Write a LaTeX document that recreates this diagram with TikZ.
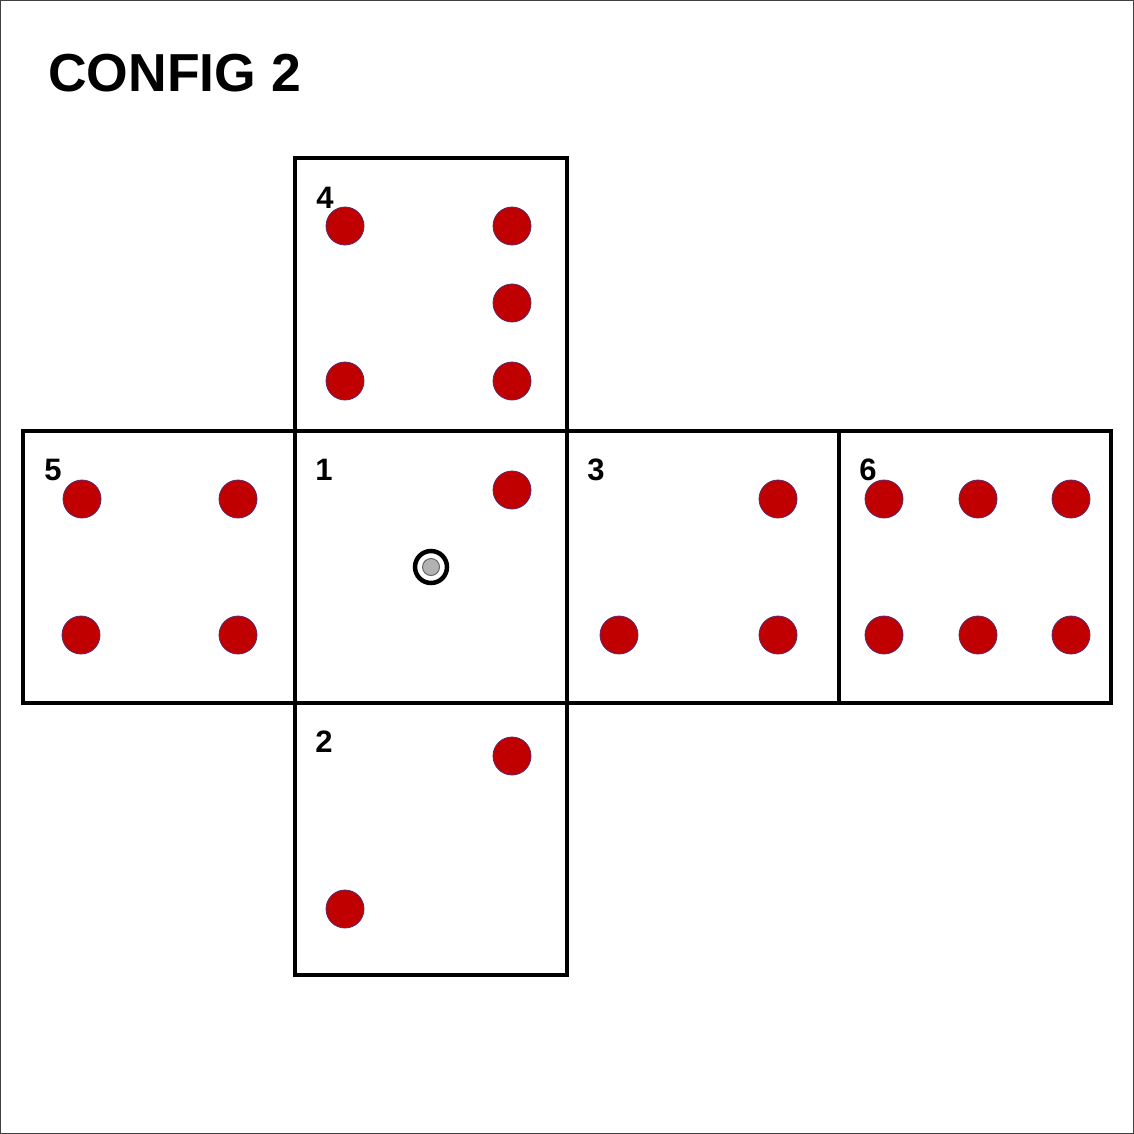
\documentclass[tikz,border=0pt]{standalone}
\usepackage{fontspec}
\setmainfont{Liberation Sans}
\begin{document}
\begin{tikzpicture}[x=1pt,y=-1pt,
  face/.style={draw=black,line width=4pt,minimum width=272pt,minimum height=272pt,inner sep=0pt,outer sep=0pt},
  pip/.style={circle,fill={rgb,255:red,192;green,0;blue,0},draw={rgb,255:red,90;green,40;blue,110},line width=0.8pt,minimum size=38pt,inner sep=0pt},
  num/.style={font=\fontsize{31}{31}\selectfont\bfseries,inner sep=0pt,anchor=center},
  title/.style={font=\fontsize{53.5}{53.5}\selectfont\bfseries,inner sep=0pt,anchor=west}]
\useasboundingbox (0,0) rectangle (1134,1134);
\draw[gray!50!black,line width=1pt] (0.5,0.5) rectangle (1133.5,1133.5);
\node[title] (t) at (48,73) {CONFIG 2};
% faces
\node[face] (f4) at (431,294.5) {};
\node[face] (f5) at (159,567) {};
\node[face] (f1) at (431,567) {};
\node[face] (f3) at (703,567) {};
\node[face] (f6) at (975,567) {};
\node[face] (f2) at (431,839) {};
% labels
\node[num] (l4) at (325,198) {4};
\node[num] (l5) at (53,470) {5};
\node[num] (l1) at (324,470) {1};
\node[num] (l3) at (596,470) {3};
\node[num] (l6) at (868,470) {6};
\node[num] (l2) at (324,742) {2};
% pips face 4
\node[pip] (p4a) at (345,226) {};
\node[pip] (p4b) at (512,226) {};
\node[pip] (p4c) at (512,303) {};
\node[pip] (p4d) at (345,381) {};
\node[pip] (p4e) at (512,381) {};
% face 5
\node[pip] (p5a) at (82,499) {};
\node[pip] (p5b) at (238,499) {};
\node[pip] (p5c) at (81,635) {};
\node[pip] (p5d) at (238,635) {};
% face 1
\node[pip] (p1a) at (512,490) {};
\node[circle,draw=black,line width=4.5pt,minimum size=32pt,inner sep=0pt] (ring) at (431,567) {};
\node[circle,fill=gray!60,draw=gray!80!black,line width=1pt,minimum size=17pt,inner sep=0pt] (core) at (431,567) {};
% face 3
\node[pip] (p3a) at (778,499) {};
\node[pip] (p3b) at (619,635) {};
\node[pip] (p3c) at (778,635) {};
% face 6
\node[pip] (p6a) at (884,499) {};
\node[pip] (p6b) at (978,499) {};
\node[pip] (p6c) at (1071,499) {};
\node[pip] (p6d) at (884,635) {};
\node[pip] (p6e) at (978,635) {};
\node[pip] (p6f) at (1071,635) {};
% face 2
\node[pip] (p2a) at (512,756) {};
\node[pip] (p2b) at (345,909) {};
\end{tikzpicture}
\end{document}
